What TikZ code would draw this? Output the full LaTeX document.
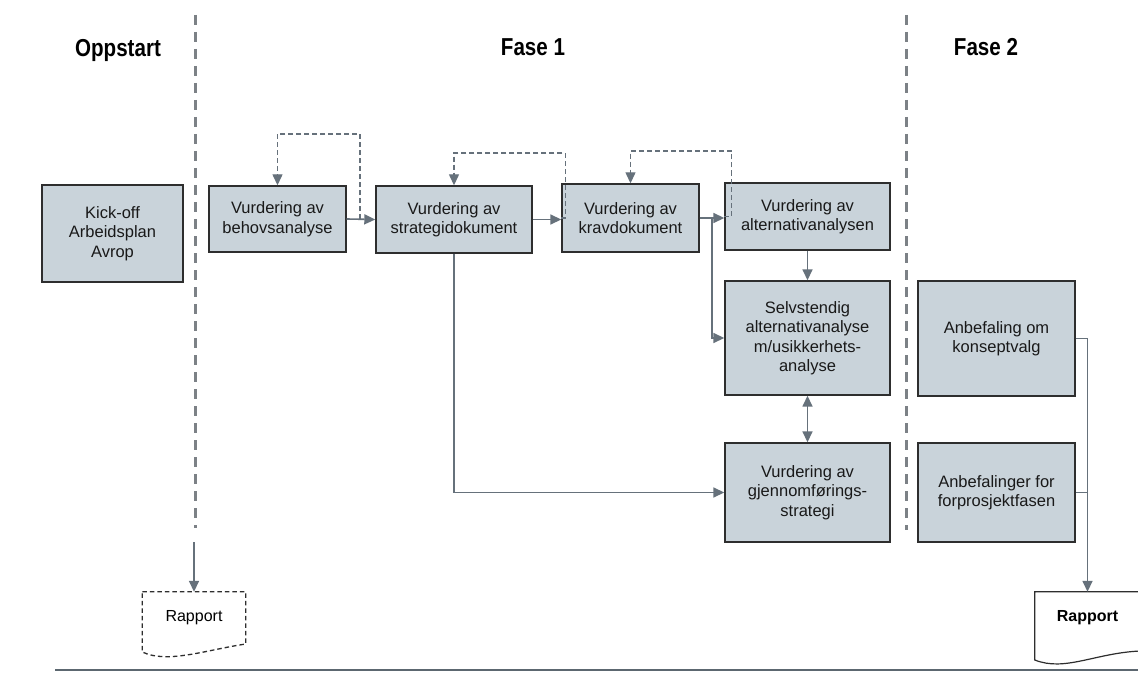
\documentclass[tikz,border=0pt]{standalone}
\usepackage{fontspec}
\setmainfont{Liberation Sans}
\usetikzlibrary{arrows.meta,calc}
\definecolor{boxfill}{HTML}{C9D3DA}
\definecolor{boxline}{HTML}{2E2E2E}
\definecolor{arrcol}{HTML}{66717B}
\definecolor{divcol}{HTML}{7C8186}
\definecolor{basecol}{HTML}{5C6770}
\newcommand{\narrowhead}[1]{\scalebox{0.84}[1]{#1}}
\tikzset{
  pbox/.style={draw=boxline,line width=1.4pt,fill=boxfill,align=center,inner sep=2pt,
    font=\fontsize{16.5}{19.5}\selectfont,text=black!90},
  head/.style={font=\fontsize{24.5}{28}\selectfont\bfseries},
  arr/.style={draw=arrcol,line width=1.6pt,-{Triangle[length=11pt,width=10pt]}},
  darr/.style={draw=arrcol,line width=1.6pt,{Triangle[length=11pt,width=10pt]}-{Triangle[length=11pt,width=10pt]}},
  plain/.style={draw=arrcol,line width=1.6pt},
  dloop/.style={draw=arrcol,line width=1.3pt,dash pattern=on 5pt off 3pt,-{Triangle[length=11pt,width=10pt]}},
  divider/.style={draw=divcol,line width=3pt,dash pattern=on 10pt off 7pt},
  doctext/.style={minimum height=52pt,inner sep=0pt,font=\fontsize{16}{19}\selectfont},
}
\begin{document}
\begin{tikzpicture}[x=1pt,y=-1pt]
\useasboundingbox[fill=white] (0,0) rectangle (1138,674);

% headings
\node[head] (h0) at (118,50) {\narrowhead{Oppstart}};
\node[head] (h1) at (533,47) {\narrowhead{Fase 1}};
\node[head] (h2) at (986,47) {\narrowhead{Fase 2}};

% dividers
\draw[divider] (195,15) -- (195,528);
\draw[divider] (906,15) -- (906,530);
\draw[draw=basecol,line width=2.5pt] (55,670) -- (1140,670);

% boxes
\node[pbox,minimum width=141pt,minimum height=97pt] (k) at (112.5,233.5) {Kick-off\\Arbeidsplan\\Avrop};
\node[pbox,minimum width=137pt,minimum height=66pt] (b1) at (277.5,219) {Vurdering av\\behovsanalyse};
\node[pbox,minimum width=156pt,minimum height=67pt] (b2) at (454,219.5) {Vurdering av\\strategidokument};
\node[pbox,minimum width=137pt,minimum height=68pt] (b3) at (630.5,218) {Vurdering av\\kravdokument};
\node[pbox,minimum width=165pt,minimum height=67pt] (b4) at (807.5,216.5) {Vurdering av\\alternativanalysen};
\node[pbox,minimum width=165pt,minimum height=114pt] (b5) at (807.5,338) {Selvstendig\\alternativanalyse\\m/usikkerhets-\\analyse};
\node[pbox,minimum width=165pt,minimum height=99pt] (b6) at (807.5,492.5) {Vurdering av\\gjennomførings-\\strategi};
\node[pbox,minimum width=157pt,minimum height=115pt] (b7) at (996.5,338.5) {Anbefaling om\\konseptvalg};
\node[pbox,minimum width=157pt,minimum height=99pt] (b8) at (996.5,492.5) {Anbefalinger for\\forprosjektfasen};

% report documents
\node[doctext,minimum width=103pt] (r1) at (194,618) {Rapport};
\draw[draw=boxline,line width=1.3pt,dash pattern=on 4.5pt off 3pt]
  (r1.north west) -- (r1.north east) -- ($(r1.east)+(0,26)$)
  .. controls +(-40,6) and +(25,12) .. ($(r1.west)+(0,34)$) -- cycle;
\node[doctext,minimum width=105pt,font=\fontsize{16}{19}\selectfont\bfseries] (r2) at (1087.5,618) {Rapport};
\draw[draw=boxline,line width=1.2pt]
  (r2.north west) -- (r2.north east) -- ($(r2.east)+(0,33)$)
  .. controls +(-45,2) and +(30,12) .. ($(r2.west)+(0,42)$) -- cycle;

% main flow
\coordinate (l1) at (360,219);
\draw[arr] (b1.east) -- (b2.west);
\draw[dloop] (l1) -- (360,134) -| (b1.north);
\draw[arr] (b2.east) -- (b2.east -| b3.west);
\draw[dloop] (b3.west) -- ++(4,0) |- (454,153) -- (b2.north);
\draw[arr] (b3.east) -- (b3.east -| b4.west);
\draw[dloop] (b4.west) -- ++(7,0) |- (630.5,151) -- (b3.north);
\coordinate (br) at (712,218);
\draw[arr] (br) |- (b5.west);
\draw[arr] (b4.south) -- (b5.north);
\draw[darr] (b5.south) -- (b6.north);
\draw[arr] (b2.south) |- (b6.west);

% phase 2
\draw[arr] (b7.east) -| (r2.north);
\draw[plain] (b8.east) -- (b8.east -| r2.north);

% oppstart report
\coordinate (o1) at (194,542);
\draw[arr] (o1) -- (r1.north);
\end{tikzpicture}
\end{document}
